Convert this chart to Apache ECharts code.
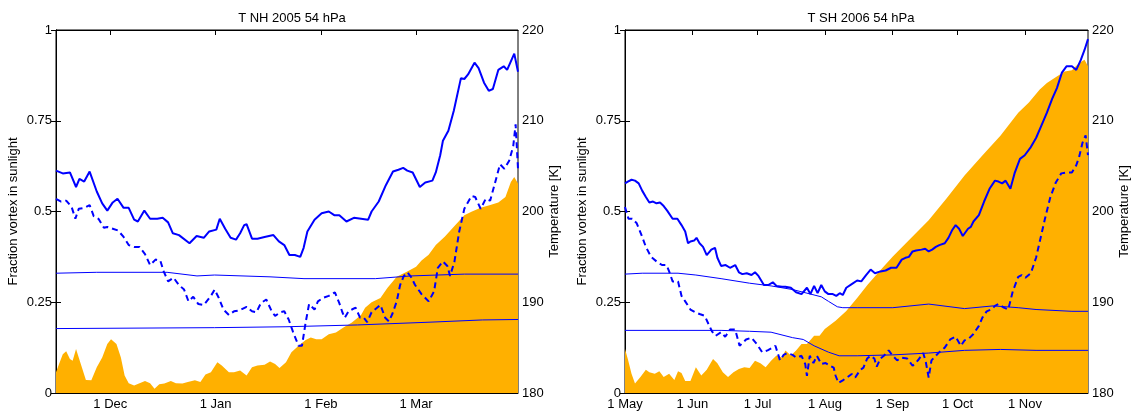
<!DOCTYPE html>
<html>
<head>
<meta charset="utf-8">
<script src="https://cdn.jsdelivr.net/npm/echarts@6/dist/echarts.min.js"></script>
<style>
  html, body { margin: 0; padding: 0; background: #fff; }
  #main { width: 1132px; height: 411px; }
</style>
</head>
<body>
<div id="main"></div>
<script>
// day index: NH from 15 Nov (0) to 31 Mar (136); SH from 1 May (0) to 30 Nov (213)
var nhTicks = [16, 47, 78, 106];
var nhTickLabels = ['1 Dec', '1 Jan', '1 Feb', '1 Mar'];
var shTicks = [0, 31, 61, 92, 123, 153, 184];
var shTickLabels = ['1 May', '1 Jun', '1 Jul', '1 Aug', '1 Sep', '1 Oct', '1 Nov'];

// fraction of vortex in sunlight [day, fraction]
var nhSunlit = [[0,0.057],[0.9,0.08],[2,0.107],[3,0.115],[4.1,0.094],[4.9,0.089],[5.9,0.121],[7.3,0.08],[8.8,0.036],[10.4,0.035],[12,0.071],[13.6,0.098],[15.1,0.135],[16.2,0.148],[17.8,0.135],[19.1,0.098],[20.2,0.048],[21.4,0.027],[23,0.021],[24.6,0.027],[26.2,0.033],[27.7,0.027],[29,0.012],[30.4,0.024],[31.9,0.026],[33.8,0.033],[35.3,0.027],[37.2,0.026],[38.8,0.03],[40.9,0.035],[42.5,0.03],[44,0.051],[45.6,0.057],[47.5,0.085],[48.8,0.076],[50.9,0.057],[52.4,0.057],[54.2,0.062],[56.1,0.048],[57.7,0.071],[59.3,0.076],[61.4,0.078],[63,0.087],[64.5,0.08],[65.8,0.069],[67.7,0.085],[69.3,0.112],[71.4,0.13],[73.5,0.146],[75,0.153],[76.6,0.148],[78.2,0.148],[80.3,0.162],[82.4,0.167],[84.5,0.18],[87.1,0.194],[89.8,0.215],[91,0.235],[92.9,0.25],[95.5,0.262],[97.6,0.29],[100.3,0.32],[103.4,0.335],[106,0.348],[107.6,0.365],[109.7,0.381],[111.8,0.408],[114.5,0.431],[117.1,0.458],[120.2,0.49],[122.3,0.499],[125,0.51],[127.6,0.517],[130.2,0.525],[132.3,0.54],[133.9,0.581],[134.9,0.595],[136,0.577]];
var shSunlit = [[0,0.121],[1.3,0.094],[3,0.053],[4.6,0.026],[7.1,0.044],[9.6,0.064],[11.2,0.057],[13.7,0.053],[15.8,0.06],[17.8,0.044],[20.3,0.053],[22.7,0.036],[24.4,0.06],[26,0.055],[27.7,0.033],[30.1,0.033],[32.6,0.071],[35.1,0.048],[37.6,0.064],[40.5,0.094],[42.5,0.082],[45,0.057],[47.4,0.044],[49.9,0.057],[52.4,0.066],[54.9,0.071],[57.3,0.069],[59.8,0.089],[62.3,0.082],[64.7,0.071],[67.2,0.089],[69.7,0.103],[72.2,0.098],[73.8,0.117],[76.3,0.103],[78.7,0.117],[81.2,0.135],[83.7,0.135],[87,0.158],[89.5,0.158],[91.9,0.176],[96.9,0.199],[101.8,0.226],[106.8,0.262],[111.7,0.299],[118.3,0.344],[123.2,0.376],[131.5,0.426],[139.7,0.476],[147.9,0.536],[156.2,0.599],[164.4,0.654],[172.7,0.709],[180.9,0.772],[185.8,0.8],[190.8,0.836],[194.1,0.854],[199,0.873],[202.3,0.886],[205.6,0.889],[208.9,0.909],[211.4,0.918],[213,0.9]];

// vortex mean temperature [day, K]
var nhTmean = [[0,204.5],[2,204.2],[4.1,204.3],[5.9,202.7],[6.9,203.6],[8.3,203.3],[9.9,204.4],[12,202.2],[13.6,200.9],[15.1,200.1],[16.7,201],[18.1,201.4],[19.9,200.4],[21.4,200.4],[23,199.1],[24.1,198.9],[26,200.1],[27.7,199.2],[29.8,199.2],[31.4,199.3],[33,198.8],[34.4,197.6],[36.2,197.4],[39.3,196.5],[41.4,197.3],[43.5,197.1],[45.1,197.8],[47.2,198],[48.2,199.2],[49.8,198.1],[51.4,197.1],[53,196.9],[54.2,197.6],[55.4,198.5],[56.1,198.6],[57.7,197],[59.3,197],[61.4,197.2],[64,197.4],[65.6,196.7],[67.2,196.3],[68.7,195.2],[70.3,195.2],[71.9,195],[72.9,196],[74,197.8],[76.1,199.1],[78.2,199.8],[80.3,200],[81.9,199.6],[83.4,199.6],[85.5,198.9],[87.7,199.3],[89.8,199.2],[91.9,199.1],[92.9,200],[95,201.1],[97.1,202.9],[99.2,204.4],[100.8,204.6],[102.2,204.8],[103.4,204.5],[105,204.3],[107.1,202.7],[108.7,203.2],[110.8,203.4],[111.8,204.3],[113.1,206.2],[113.9,207.8],[115.5,208.9],[117.1,211.1],[119.2,214.7],[120.2,214.6],[121.3,215.1],[123.2,216.4],[124.4,215.8],[126,214.2],[127.4,213.3],[128.6,213.5],[130.2,215.6],[131.8,216],[132.8,215.6],[134.9,217.4],[136,215.4]];
var shTmean = [[0,203.1],[1.3,203.3],[3,203.5],[4.6,203.4],[6.3,203.1],[7.9,202.3],[9.6,201.6],[11.2,201],[12.9,201.1],[14.5,200.9],[16.1,201],[17.8,200.6],[19.4,200.1],[21.9,199.2],[24.1,199.2],[26,198.5],[27.7,197.8],[29,196.5],[30.1,196.7],[31.8,196.8],[32.9,197.1],[34.3,196.5],[35.9,196.1],[37.6,195.2],[39.7,195.8],[41.4,196],[42.5,194.9],[44.2,194],[46.3,194.1],[48.3,193.8],[50.7,194.1],[52.4,193.3],[54,193.1],[56,193.2],[58.2,193],[59.8,193.3],[61.4,192.9],[63.9,191.9],[65.9,191.9],[68,192.2],[69.7,191.8],[72.2,191.7],[73.8,191.7],[76.3,191.6],[78.7,191.1],[81.2,190.9],[83.7,191.6],[85.3,190.9],[87,191.8],[88.6,191],[90.3,191.9],[91.9,191.2],[93.6,190.9],[95.6,190.9],[97.2,190.7],[98.8,191],[100.2,190.8],[101.8,191.6],[104.3,192],[106.8,192.4],[108.7,192.3],[110.9,193],[113,193.6],[115,193.2],[117.5,193.4],[119.9,193.5],[122.4,193.8],[124.9,193.8],[127.3,194.7],[129,194.9],[130.6,195],[132.3,195.6],[133.9,195.7],[136.4,195.8],[138.1,195.9],[139.7,195.6],[141.3,195.8],[143,196.1],[144.6,196.3],[147.1,196.5],[148.8,197.1],[150.4,197.9],[152.1,198.5],[153.7,198.1],[155.4,197.3],[156.2,197.5],[157.8,198.1],[159.1,198.3],[160.3,198.9],[162.8,199.6],[165.2,201.1],[167.7,202.5],[170.2,203.4],[171.8,203.3],[173.5,203.1],[175.1,203.4],[177.3,202.5],[179.2,204.2],[181.7,205.8],[183.9,206.2],[186.7,207.1],[189.1,208.1],[191.6,209.5],[194.1,210.9],[196.5,212.4],[198.7,213.6],[201,215.3],[203.1,216],[205.6,216],[207.6,215.6],[209.7,216.7],[211.4,217.8],[213,219]];

// vortex minimum temperature [day, K]
var nhTmin = [[0,201.4],[1.5,201.1],[3,201.2],[4.6,200.5],[5.7,199.2],[6.7,200.3],[8.3,200.4],[9.9,200.7],[11.1,199.5],[12.5,199.2],[14.1,198.2],[15.1,198.3],[16.7,198.1],[18.3,197.9],[19.9,197.2],[21.4,196.3],[23,196.1],[24.6,196.1],[26.2,195.3],[27.7,194.1],[29.3,194.7],[30.7,194.6],[31.7,193.4],[33,192.3],[34.6,192.7],[36.2,191.9],[37.7,191.4],[39,190.1],[40.4,190.6],[41.9,189.8],[43.5,189.7],[45.6,190.7],[46.7,191.4],[47.9,190.5],[49.3,189.2],[50.9,188.6],[52.4,189],[54,189.1],[56.1,189.5],[57.7,189],[59,188.9],[60.3,189.9],[61.9,190.3],[63.5,189],[64.5,188.5],[66.1,188.9],[67.2,189],[68.5,188.1],[69.8,186.7],[71.4,185.2],[72.4,185.2],[73.5,187.8],[74.5,189.8],[75,189.9],[76.1,189.2],[77.1,190.1],[78.7,190.5],[80.3,190.7],[82.1,191.1],[83.4,189.9],[84.3,188.9],[85,188.3],[86.1,189],[87.1,189.2],[88.2,189.4],[89.5,188.3],[90.6,188.3],[91.6,187.8],[92.9,188.9],[94.5,189.4],[95.5,189.7],[96.9,188.3],[98,187.9],[99,188.7],[100.3,190.1],[101.3,191.9],[102.4,192.9],[103.4,193.3],[104.5,192.8],[105.7,191.9],[107.6,190.9],[109.7,190.1],[111.3,191.2],[112.4,193.8],[113.9,194.5],[115.2,194],[116,192.9],[117.3,194.5],[118.7,197.8],[120.2,200.3],[122.3,201.7],[123.4,201.6],[125,200.3],[126.5,201.4],[127.8,201.2],[129.2,203.1],[130.7,205.2],[132,204.7],[133.4,205.6],[134.6,207.2],[135.3,209.6],[136,204.7]];
var shTmin = [[0,200.5],[1.6,199.2],[3.3,199.2],[5.4,198.7],[7.6,197.4],[9.6,196.1],[12,195],[14.5,194.5],[17,194.1],[19.1,194.1],[20.3,193.4],[21.9,192.3],[24.4,192.3],[26,190.7],[27.7,190.1],[30.1,189.2],[32.3,188.9],[34.3,188.7],[36.7,188.5],[38.4,187.6],[40,186.8],[41.7,186.3],[44.2,186.7],[46.1,186.2],[48.3,187],[50.7,187],[52.7,185.2],[55.7,185.9],[58.2,186.1],[60.6,185.4],[63.1,184.5],[65.6,184.7],[68,185],[69.2,185.2],[71.3,183.6],[73,184.2],[74.6,184.4],[77.1,184.2],[78.7,183.9],[81.2,184.1],[82.9,183.2],[83.7,181.9],[85,184.1],[86.7,183.3],[88.3,184.1],[90.3,183.2],[92.3,183.3],[94.4,183],[96,182.8],[96.9,181.9],[98.2,181.1],[100.2,181.4],[102.1,181.7],[104.3,182.1],[105.9,181.7],[108.1,182.5],[109.7,182.8],[111.4,183.8],[113,184.1],[114.7,183.8],[115.8,182.9],[117.5,183.8],[119.1,184.1],[121.3,184.7],[123.2,184.1],[125.2,183.6],[127.3,183.9],[129.8,183.8],[132.3,183],[134.8,183.6],[137.2,184.4],[138.4,183.4],[139.7,181.7],[141,183.6],[143,184.1],[144.6,184.5],[147.1,185],[149.6,185.9],[152.1,186.2],[154.5,185.2],[156.2,185.8],[158.2,186],[160.3,186.5],[162.8,187.4],[164.4,188.3],[166.4,189],[168.5,189.2],[170.2,189.6],[171.8,189.8],[174.3,189.4],[176.3,189.2],[178.4,191.2],[180.9,192.8],[182.5,193],[184.2,192.7],[186.7,193.2],[189.1,194.9],[191.1,197],[193.2,199.2],[195.7,201.6],[198.2,203.2],[200.7,204.2],[203.1,204.3],[205.6,204.3],[207.6,205.1],[208.9,206],[210.5,207.6],[211.9,208.4],[213,206.2]];

// threshold temperatures (upper and lower thin lines) [day, K]
var nhTupper = [[0,193.2],[12,193.3],[32.7,193.3],[41.5,192.9],[46.7,193],[63,192.8],[73,192.6],[94,192.6],[104.5,192.9],[120.2,193.1],[136,193.1]];
var nhTlower = [[0,187.1],[46.7,187.2],[67.7,187.3],[88.8,187.5],[109.8,187.8],[125.5,188.05],[136,188.1]];
var shTupper = [[0,193.1],[7.9,193.2],[24.4,193.2],[32.6,193],[44.2,192.6],[57.3,192.1],[67.2,191.8],[77.1,191.4],[83.7,191],[90.3,190.6],[93.6,190.1],[97.7,189.5],[100.2,189.4],[106.8,189.4],[123.2,189.4],[139.7,189.8],[156.2,189.3],[169.4,189.6],[180.9,189.4],[189.1,189.2],[205.6,189],[213,189]];
var shTlower = [[0,186.9],[24.4,186.9],[44.2,186.9],[57.3,186.8],[67.2,186.7],[77.1,186.1],[82,185.9],[87,185.2],[93.6,184.5],[98.5,184.1],[106.8,184.1],[123.2,184.2],[139.7,184.4],[156.2,184.7],[172.7,184.8],[189.1,184.7],[213,184.7]];

var FONT = 'Liberation Sans';
var FS = 13;
var BLUE = '#0000ff';
var ORANGE = '#ffb000';

function xAxes(gridIndex, max, ticks, labels) {
  var bottom = {
    type: 'value', gridIndex: gridIndex, min: 0, max: max, position: 'bottom',
    axisLine: { show: true, onZero: false, lineStyle: { color: '#000', width: 1 } },
    axisTick: { show: true, inside: true, length: 5, customValues: ticks, lineStyle: { color: '#000' } },
    axisLabel: {
      show: true, customValues: ticks, margin: 5, color: '#000', fontFamily: FONT, fontSize: FS,
      formatter: function (v) { var i = ticks.indexOf(v); return i >= 0 ? labels[i] : ''; }
    },
    splitLine: { show: false }
  };
  var top = {
    type: 'value', gridIndex: gridIndex, min: 0, max: max, position: 'top',
    axisLine: { show: true, onZero: false, lineStyle: { color: '#000', width: 1 } },
    axisTick: { show: true, inside: true, length: 5, customValues: ticks, lineStyle: { color: '#000' } },
    axisLabel: { show: false },
    splitLine: { show: false }
  };
  return [bottom, top];
}

function yAxes(gridIndex) {
  var left = {
    type: 'value', gridIndex: gridIndex, min: 0, max: 1, interval: 0.25, position: 'left',
    name: 'Fraction vortex in sunlight', nameLocation: 'middle', nameGap: 36,
    nameTextStyle: { color: '#000', fontFamily: FONT, fontSize: FS },
    axisLine: { show: true, lineStyle: { color: '#000', width: 1 } },
    axisTick: { show: true, inside: true, length: 5, lineStyle: { color: '#000' } },
    axisLabel: { color: '#000', fontFamily: FONT, fontSize: FS, margin: 4 },
    splitLine: { show: false }
  };
  var right = {
    type: 'value', gridIndex: gridIndex, min: 180, max: 220, interval: 10, position: 'right',
    name: 'Temperature [K]', nameLocation: 'middle', nameGap: 30,
    nameTextStyle: { color: '#000', fontFamily: FONT, fontSize: FS },
    axisLine: { show: true, lineStyle: { color: '#000', width: 1 } },
    axisTick: { show: true, inside: true, length: 5, lineStyle: { color: '#000' } },
    axisLabel: { color: '#000', fontFamily: FONT, fontSize: FS, margin: 4 },
    splitLine: { show: false }
  };
  return [left, right];
}

function panelSeries(xIdx, yFrac, yTemp, sunlit, tUpper, tLower, tMean, tMin) {
  var base = { type: 'line', xAxisIndex: xIdx, showSymbol: false, symbol: 'none', animation: false, silent: true };
  return [
    Object.assign({}, base, { yAxisIndex: yFrac, data: sunlit, z: 1,
      lineStyle: { width: 0, color: ORANGE }, itemStyle: { color: ORANGE },
      areaStyle: { color: ORANGE, opacity: 1 } }),
    Object.assign({}, base, { yAxisIndex: yTemp, data: tUpper, z: 2,
      lineStyle: { width: 1, color: BLUE }, itemStyle: { color: BLUE } }),
    Object.assign({}, base, { yAxisIndex: yTemp, data: tLower, z: 2,
      lineStyle: { width: 1, color: BLUE }, itemStyle: { color: BLUE } }),
    Object.assign({}, base, { yAxisIndex: yTemp, data: tMin, z: 3,
      lineStyle: { width: 2, color: BLUE, type: [6, 4] }, itemStyle: { color: BLUE } }),
    Object.assign({}, base, { yAxisIndex: yTemp, data: tMean, z: 3,
      lineStyle: { width: 2, color: BLUE }, itemStyle: { color: BLUE } })
  ];
}

var chart = echarts.init(document.getElementById('main'), null, { renderer: 'canvas' });

var nhX = xAxes(0, 136, nhTicks, nhTickLabels);
var shX = xAxes(1, 213, shTicks, shTickLabels);
var nhY = yAxes(0);
var shY = yAxes(1);

chart.setOption({
  backgroundColor: '#fff',
  animation: false,
  title: [
    { text: 'T NH 2005 54 hPa', left: 287, top: 7, textAlign: 'center',
      textStyle: { color: '#000', fontFamily: FONT, fontSize: FS, fontWeight: 'normal' } },
    { text: 'T SH 2006 54 hPa', left: 856, top: 7, textAlign: 'center',
      textStyle: { color: '#000', fontFamily: FONT, fontSize: FS, fontWeight: 'normal' } }
  ],
  grid: [
    { left: 56, right: 614, top: 30, bottom: 15, show: true, borderColor: '#000', borderWidth: 1, backgroundColor: 'transparent' },
    { left: 625, right: 44, top: 30, bottom: 15, show: true, borderColor: '#000', borderWidth: 1, backgroundColor: 'transparent' }
  ],
  xAxis: [nhX[0], nhX[1], shX[0], shX[1]],
  yAxis: [nhY[0], nhY[1], shY[0], shY[1]],
  series: []
    .concat(panelSeries(0, 0, 1, nhSunlit, nhTupper, nhTlower, nhTmean, nhTmin))
    .concat(panelSeries(2, 2, 3, shSunlit, shTupper, shTlower, shTmean, shTmin))
});
</script>
</body>
</html>
